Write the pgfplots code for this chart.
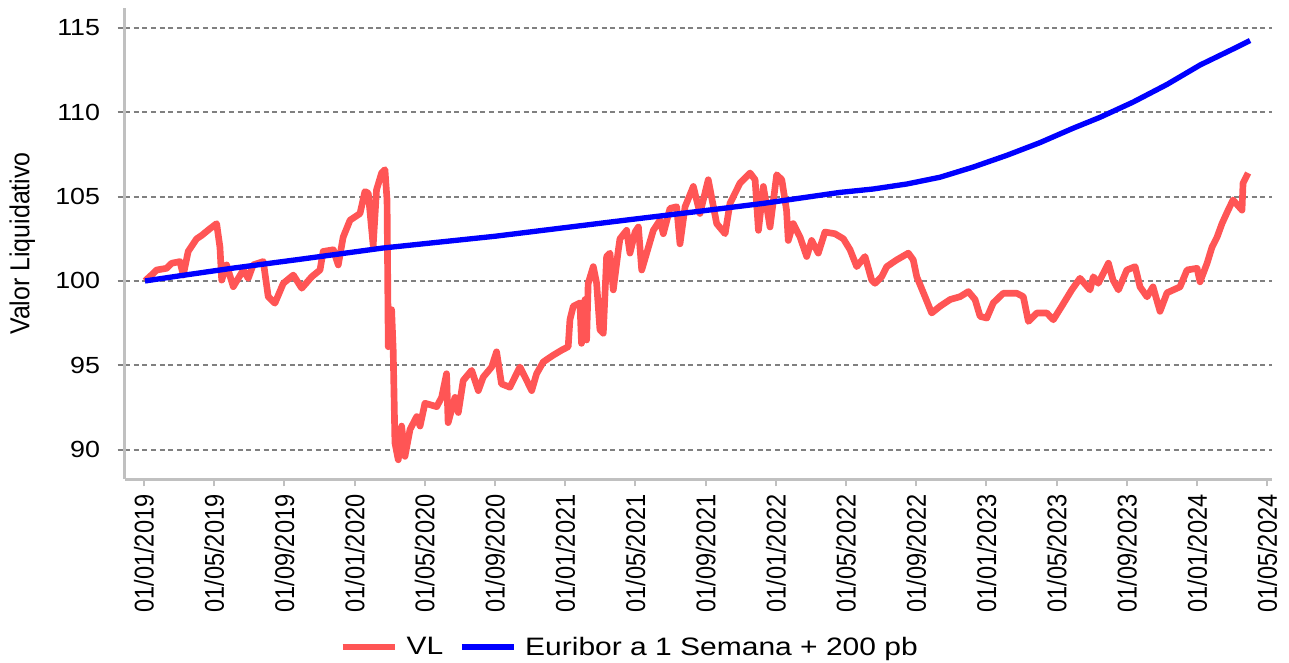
\documentclass[border=0pt]{standalone}
\usepackage{pgfplots}
\pgfplotsset{compat=1.18}
\usepackage{fontspec}
\setmainfont{Liberation Sans}
\definecolor{vlred}{RGB}{255,85,85}
\definecolor{eublue}{RGB}{0,0,255}
\definecolor{axisgray}{RGB}{192,192,192}
\definecolor{gridgray}{RGB}{128,128,128}
\newcommand{\ytl}[1]{\scalebox{1.15}[1]{\fontsize{17.5}{18}\selectfont #1}}
\newcommand{\xtl}[1]{\scalebox{1}[1.15]{\fontsize{17.7}{18}\selectfont #1}}
\newcommand{\lgt}[1]{\scalebox{1.19}[1]{\fontsize{18.9}{19}\selectfont #1}}
\begin{document}
\begin{tikzpicture}
\begin{axis}[
  name=ax, at={(0,0)}, anchor=south west,
  scale only axis, width=860.25pt, height=353.25pt,
  xmin=-1.08, xmax=64.27, ymin=88.26, ymax=116.18,
  axis x line*=bottom, axis y line*=left,
  axis line style={axisgray, line width=2.25pt},
  xtick={0,4,...,64},
  xticklabels={\xtl{01/01/2019},\xtl{01/05/2019},\xtl{01/09/2019},\xtl{01/01/2020},\xtl{01/05/2020},\xtl{01/09/2020},\xtl{01/01/2021},\xtl{01/05/2021},\xtl{01/09/2021},\xtl{01/01/2022},\xtl{01/05/2022},\xtl{01/09/2022},\xtl{01/01/2023},\xtl{01/05/2023},\xtl{01/09/2023},\xtl{01/01/2024},\xtl{01/05/2024}},
  ytick={90,95,...,115},
  yticklabels={\ytl{90},\ytl{95},\ytl{100},\ytl{105},\ytl{110},\ytl{115}},
  ymajorgrids,
  grid style={gridgray, line width=1.5pt, dash pattern=on 3.75pt off 2.75pt},
  tick align=outside, major tick length=5.5pt,
  xtick style={axisgray, line width=1.5pt},
  ytick style={gridgray, line width=1.5pt, dash pattern=on 3.75pt off 2.75pt},
  xticklabel style={rotate=90, anchor=east, inner sep=0pt},
  yticklabel style={anchor=east, inner sep=0pt},
  xticklabel shift=6pt, yticklabel shift=13pt,
  legend style={at={(rel axis cs:0.439,0)}, anchor=center, yshift=-126pt,
    draw=none, fill=none, legend columns=2, nodes={inner sep=0pt},
    column sep=6.5pt, /tikz/every even column/.append style={column sep=12pt}},
  legend image code/.code={\draw[#1] (0pt,0pt) -- (39pt,0pt);},
]
\addplot[vlred, line width=5pt, line join=round] coordinates {
(0.06,100.0) (0.53,100.45) (0.72,100.65) (1.29,100.75) (1.58,101.05) (2.05,101.15)
(2.24,100.35) (2.52,101.75) (3.00,102.5) (3.29,102.7) (3.76,103.1) (4.14,103.4)
(4.33,102.0) (4.43,100.05) (4.71,100.95) (5.09,99.66) (5.66,100.65) (5.94,100.15)
(6.22,100.95) (6.80,101.15) (7.08,99.07) (7.46,98.68) (7.94,99.86) (8.51,100.35)
(8.99,99.57) (9.56,100.25) (10.03,100.65) (10.21,101.75) (10.79,101.85) (11.07,100.95)
(11.35,102.6) (11.74,103.6) (12.31,104.0) (12.59,105.3) (12.78,105.2) (13.06,102.1)
(13.25,105.4) (13.54,106.4) (13.73,106.6) (13.85,104.8) (13.92,96.1) (14.11,98.3)
(14.20,95.9) (14.30,90.4) (14.49,89.4) (14.68,91.4) (14.87,89.6) (15.16,91.2)
(15.54,91.96) (15.73,91.4) (16.01,92.75) (16.68,92.55) (16.96,93.1) (17.24,94.5)
(17.33,91.6) (17.72,93.1) (17.91,92.2) (18.19,94.1) (18.67,94.7) (19.05,93.5)
(19.33,94.3) (19.81,94.9) (20.09,95.8) (20.37,93.9) (20.85,93.7) (21.42,94.9)
(21.81,94.1) (22.09,93.5) (22.37,94.5) (22.75,95.2) (23.32,95.6) (23.80,95.9)
(24.17,96.1) (24.27,97.7) (24.46,98.5) (24.84,98.7) (24.93,96.3) (25.13,98.9)
(25.22,96.5) (25.31,99.86) (25.60,100.85) (25.79,99.86) (25.98,97.1) (26.17,96.9)
(26.36,101.45) (26.55,101.65) (26.74,99.47) (27.03,101.85) (27.12,102.5) (27.50,103.0)
(27.69,101.65) (27.98,102.9) (28.17,103.2) (28.36,100.65) (28.74,102.0) (29.02,103.0)
(29.40,103.6) (29.59,102.8) (29.97,104.3) (30.35,104.4) (30.54,102.2) (30.83,104.4)
(31.30,105.6) (31.68,104.0) (32.15,106.0) (32.63,103.4) (33.11,102.8) (33.39,104.6)
(33.96,105.8) (34.53,106.4) (34.82,106.0) (35.01,103.0) (35.29,105.6) (35.67,103.2)
(36.05,106.3) (36.34,106.0) (36.61,104.2) (36.71,102.4) (36.99,103.4) (37.38,102.6)
(37.76,101.45) (38.04,102.4) (38.42,101.65) (38.80,102.9) (39.37,102.8) (39.85,102.5)
(40.23,101.85) (40.61,100.85) (41.08,101.45) (41.46,100.06) (41.65,99.86) (42.03,100.25)
(42.32,100.85) (42.89,101.25) (43.55,101.65) (43.83,101.25) (44.03,100.25) (44.50,99.07)
(44.88,98.1) (45.36,98.5) (45.93,98.9) (46.50,99.07) (46.97,99.37) (47.35,98.9)
(47.64,97.9) (48.02,97.8) (48.39,98.7) (48.96,99.27) (49.73,99.27) (50.10,99.07)
(50.39,97.6) (50.87,98.1) (51.44,98.1) (51.81,97.7) (52.29,98.5) (52.86,99.47)
(53.33,100.16) (53.90,99.47) (54.09,100.25) (54.37,99.86) (54.95,101.05) (55.21,100.06)
(55.52,99.47) (56.00,100.65) (56.47,100.85) (56.75,99.65) (57.15,99.06) (57.49,99.65)
(57.89,98.2) (58.29,99.3) (59.03,99.65) (59.43,100.65) (60.00,100.75) (60.17,99.95)
(60.57,101.05) (60.85,102.0) (61.14,102.6) (61.42,103.4) (61.77,104.2) (62.05,104.8)
(62.56,104.2) (62.62,105.8) (62.91,106.4)
};
\addlegendentry{\lgt{VL}}
\addplot[eublue, line width=4pt, line join=round] coordinates {
(0.06,100.0) (2,100.3) (5,100.75) (9,101.3) (13.6,101.95) (20,102.65) (27.8,103.65)
(31.4,104.1) (35.3,104.6) (39.66,105.25) (41.54,105.45) (43.48,105.75) (45.36,106.15)
(47.24,106.75) (49.17,107.45) (51.05,108.2) (52.93,109.05) (54.47,109.7) (56.35,110.6)
(58.29,111.65) (60.17,112.8) (62.05,113.75) (63.02,114.25)
};
\addlegendentry{\lgt{Euribor a 1 Semana + 200 pb}}
\end{axis}
\node[rotate=90] at ([xshift=-77pt]ax.west) {\scalebox{1}[1.1]{\fontsize{18.7}{19}\selectfont Valor Liquidativo}};
\pgfresetboundingbox
\path[use as bounding box] (-93.75pt,-137.25pt) rectangle (873pt,359.25pt);
\end{tikzpicture}
\end{document}
